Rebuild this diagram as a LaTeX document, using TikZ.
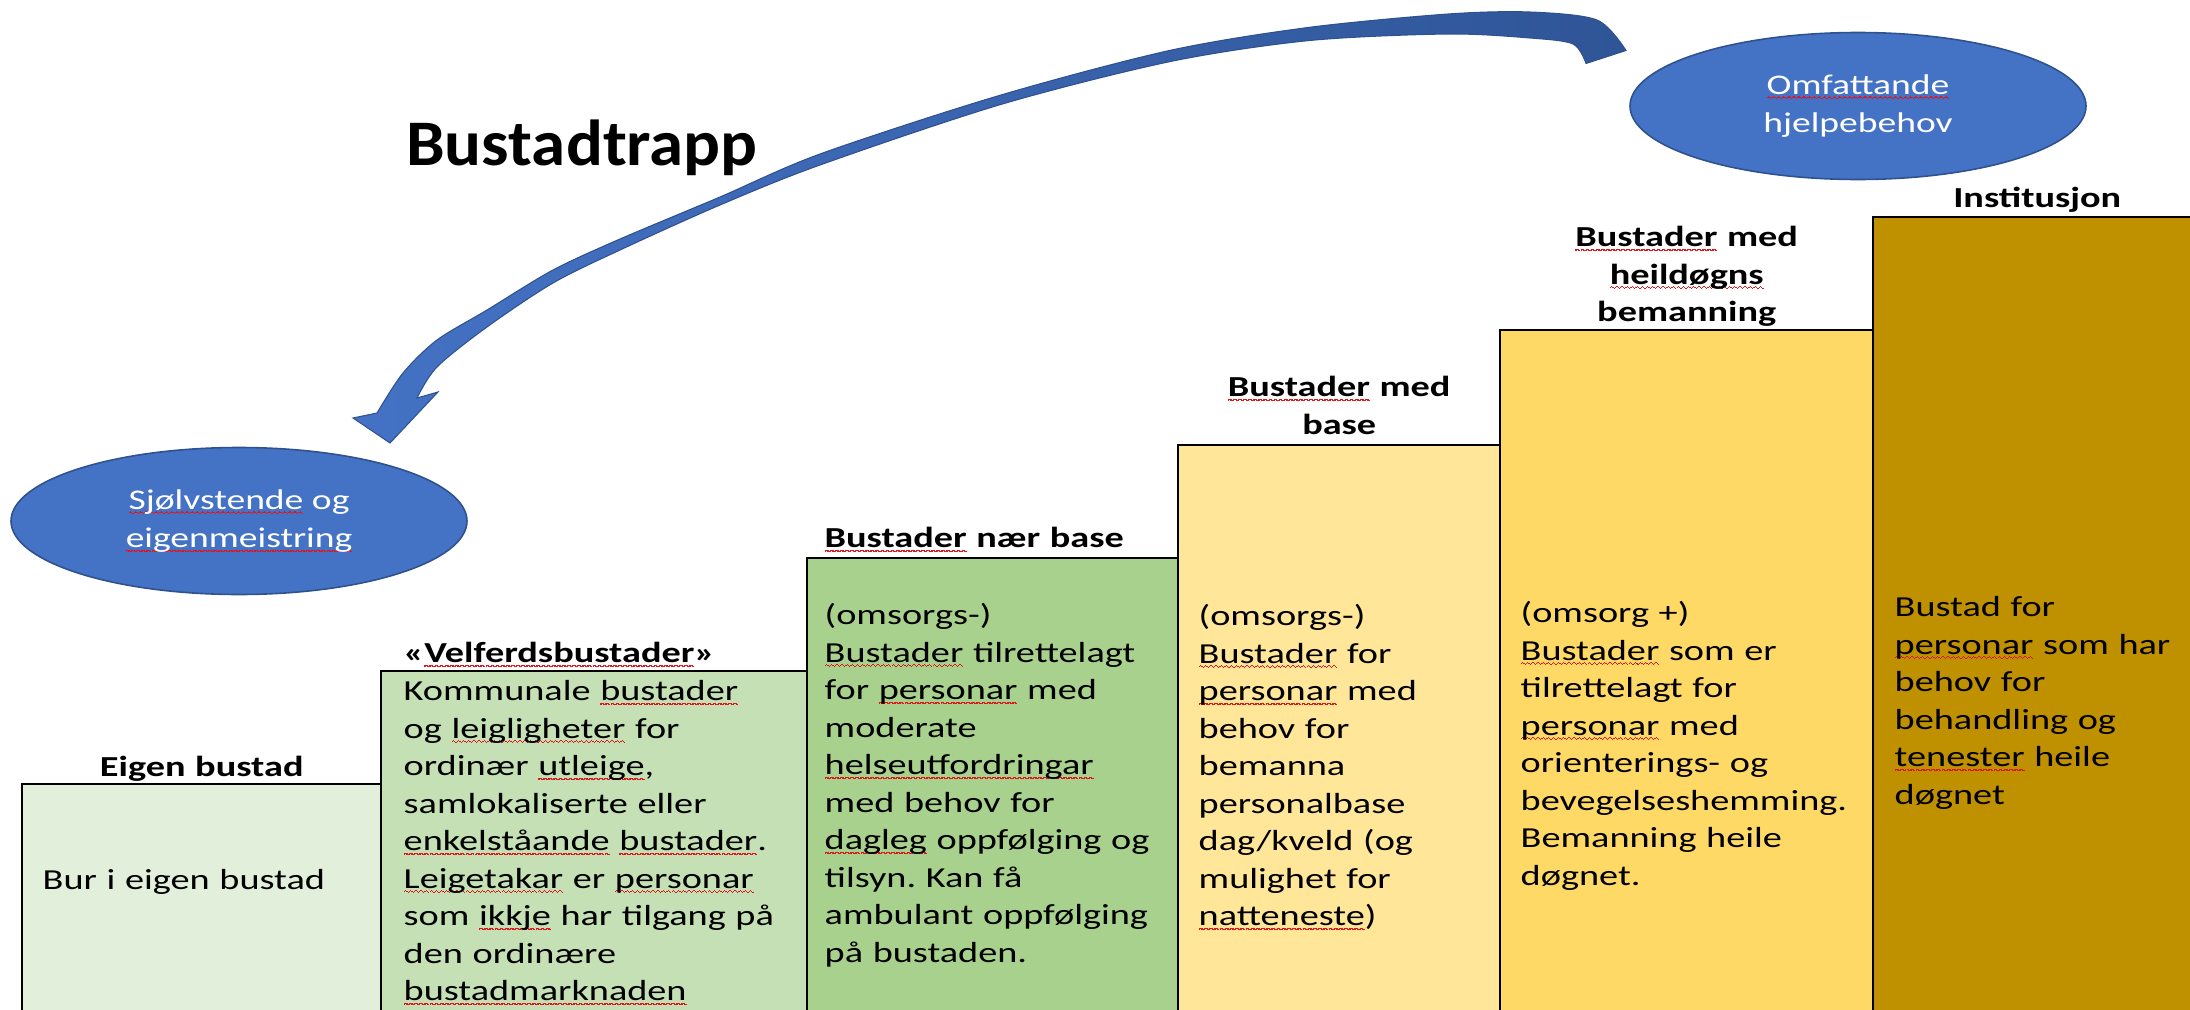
\documentclass[tikz,border=0pt]{standalone}
\usepackage{fontspec}
\newfontfamily\boxfont{Carlito}[FakeStretch=1.32]
\newfontfamily\titlefont{Carlito}[FakeStretch=1.06]
\usetikzlibrary{positioning, shapes.geometric}
\frenchspacing

\definecolor{eigenfill}{HTML}{E2EFDA}
\definecolor{velferdfill}{HTML}{C5E0B4}
\definecolor{naerfill}{HTML}{A9D18E}
\definecolor{basefill}{HTML}{FFE699}
\definecolor{heilfill}{HTML}{FFD966}
\definecolor{instfill}{HTML}{BF9000}
\definecolor{ovalfill}{HTML}{4472C4}
\definecolor{ovaledge}{HTML}{2F528F}
\definecolor{arrowdark}{HTML}{2F5597}
\definecolor{spellred}{HTML}{E0161F}

% red wavy underline of the spell checker
\newsavebox{\wavebox}
\newcommand{\wavebit}{\hbox{\rule[-1.15pt]{0.36pt}{0.36pt}\rule[-0.95pt]{0.36pt}{0.36pt}\rule[-1.15pt]{0.36pt}{0.36pt}\rule[-1.35pt]{0.36pt}{0.36pt}}}
\newcommand{\redwave}[1]{\sbox{\wavebox}{#1}\leavevmode\rlap{\textcolor{spellred}{\hbox to\wd\wavebox{\xleaders\wavebit\hfil}}}\usebox{\wavebox}}

\tikzset{
  stepbox/.style={draw=black, line width=0.7pt, anchor=south west, inner sep=0pt},
  steplabel/.style={font=\boxfont\bfseries\fontsize{8.25}{10.67}\selectfont,
    inner sep=0pt, text width=4.2cm, align=center},
  steptext/.style={font=\boxfont\fontsize{8.25}{10.67}\selectfont,
    inner sep=0pt, text width=4.2cm, align=left, anchor=base west},
  oval/.style={ellipse, fill=ovalfill, draw=ovaledge, line width=0.45pt,
    minimum width=4.56cm, minimum height=1.47cm, inner sep=0pt, text=white,
    align=center, font=\boxfont\fontsize{8.1}{10.9}\selectfont}
}

\begin{document}
\begin{tikzpicture}
\useasboundingbox (0,0) rectangle (21.9,10.09);

% the steps
\node[stepbox, fill=eigenfill, minimum width=3.59cm, minimum height=2.29cm] (eigen) at (0.21,-0.05) {};
\node[stepbox, fill=velferdfill, minimum width=4.26cm, minimum height=3.42cm] (velferd) at (3.80,-0.05) {};
\node[stepbox, fill=naerfill, minimum width=3.71cm, minimum height=4.55cm] (naer) at (8.06,-0.05) {};
\node[stepbox, fill=basefill, minimum width=3.22cm, minimum height=5.68cm] (base) at (11.77,-0.05) {};
\node[stepbox, fill=heilfill, minimum width=3.73cm, minimum height=6.83cm] (heil) at (14.99,-0.05) {};
\node[stepbox, fill=instfill, minimum width=3.28cm, minimum height=7.96cm] (inst) at (18.72,-0.05) {};

% headings over the steps
\node[steplabel, above=0.06cm of eigen, anchor=base] (eigenlbl) {Eigen bustad};
\node[steplabel, align=left, anchor=base west] (velferdlbl) at ([xshift=0.23cm, yshift=0.07cm]velferd.north west) {«\redwave{Velferdsbustader}»};
\node[steplabel, align=left, anchor=base west] (naerlbl) at ([xshift=0.18cm, yshift=0.09cm]naer.north west) {\redwave{Bustader} nær base};
\node[steplabel, above=0.47cm of base, anchor=base] (baselbl) {\redwave{Bustader} med\\base};
\node[steplabel, above=0.82cm of heil, anchor=base] (heillbl) {\redwave{Bustader} med\\\redwave{heildøgns}\\bemanning};
\node[steplabel, above=0.08cm of inst, anchor=base] (instlbl) {Institusjon};

% texts in the steps
\node[steptext] (eigentxt) at ([xshift=0.21cm, yshift=-1.07cm]eigen.north west) {Bur i eigen bustad};
\node[steptext] (velferdtxt) at ([xshift=0.23cm, yshift=-0.31cm]velferd.north west)
  {Kommunale \redwave{bustader}\\og \redwave{leigligheter} for\\ordinær \redwave{utleige},\\samlokaliserte eller\\\redwave{enkelståande} \redwave{bustader}.\\\redwave{Leigetakar} er \redwave{personar}\\som \redwave{ikkje} har tilgang på\\den ordinære\\\redwave{bustadmarknaden}};
\node[steptext] (naertxt) at ([xshift=0.18cm, yshift=-0.68cm]naer.north west)
  {(omsorgs-)\\\redwave{Bustader} tilrettelagt\\for \redwave{personar} med\\moderate\\\redwave{helseutfordringar}\\med behov for\\\redwave{dagleg} oppfølging og\\tilsyn. Kan få\\ambulant oppfølging\\på bustaden.};
\node[steptext] (basetxt) at ([xshift=0.21cm, yshift=-1.82cm]base.north west)
  {(omsorgs-)\\\redwave{Bustader} for\\\redwave{personar} med\\behov for\\bemanna\\personalbase\\dag/kveld (og\\mulighet for\\\redwave{natteneste})};
\node[steptext] (heiltxt) at ([xshift=0.21cm, yshift=-2.94cm]heil.north west)
  {(omsorg +)\\\redwave{Bustader} som er\\tilrettelagt for\\\redwave{personar} med\\orienterings- og\\bevegelseshemming.\\Bemanning heile\\døgnet.};
\node[steptext] (insttxt) at ([xshift=0.22cm, yshift=-4.01cm]inst.north west)
  {Bustad for\\\redwave{personar} som har\\behov for\\behandling og\\\redwave{tenester} heile\\døgnet};

% title and the two ovals
\node[font=\titlefont\bfseries\fontsize{18.5}{22}\selectfont, anchor=base, inner sep=0pt] (title) at (5.82,8.44) {Bustadtrapp};
\node[oval] (sjolv) at (2.39,4.88) {\redwave{Sjølvstende} og\\\redwave{eigenmeistring}};
\node[oval] (omfatt) at (18.58,9.03) {\redwave{Omfattande}\\hjelpebehov};

% curved block arrow
\path[draw=ovaledge, line width=0.3pt, left color=ovalfill, right color=arrowdark]
  plot[smooth, tension=0.5] coordinates {(16.26,9.585) (15.97,9.89) (15.30,9.97) (14.48,9.95)
    (13.08,9.815) (11.69,9.584) (9.986,9.133) (8.20,8.55) (7.20,8.12) (6.20,7.70) (5.53,7.39)
    (4.87,6.99) (4.37,6.69) (4.03,6.36) (3.77,5.96)}
  -- (3.53,5.91) -- (3.90,5.66) -- (4.38,6.17)
  -- plot[smooth, tension=0.5] coordinates {(4.17,6.11) (4.37,6.42) (4.87,6.82) (5.53,7.26)
    (6.20,7.59) (7.20,8.04) (8.20,8.44) (10.014,9.047) (11.71,9.476) (13.097,9.685) (14.48,9.75)
    (15.30,9.71) (15.73,9.65) (15.86,9.455)}
  -- cycle;
\end{tikzpicture}
\end{document}
